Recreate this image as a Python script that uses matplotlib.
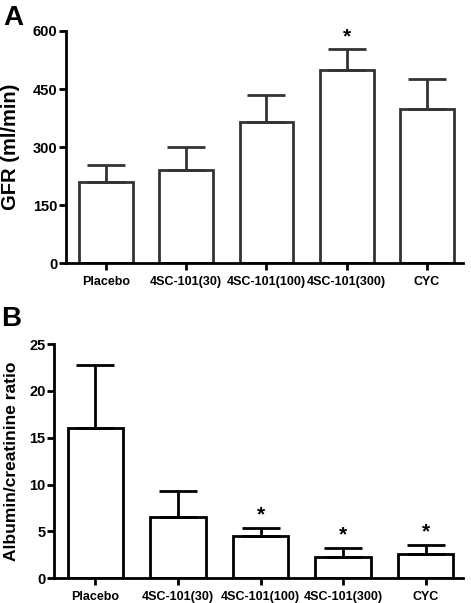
import matplotlib
matplotlib.use("Agg")
import matplotlib.pyplot as plt
import numpy as np

plt.rcParams['font.family'] = ['Liberation Sans', 'DejaVu Sans']
plt.rcParams['font.weight'] = 'bold'

categories = ["Placebo", "4SC-101(30)", "4SC-101(100)", "4SC-101(300)", "CYC"]
gfr_mean = [209, 240, 364, 498, 398]
gfr_err_top = [254, 300, 434, 553, 475]
gfr_sig = [False, False, False, True, False]
gfr_ticks = [0, 150, 300, 450, 600]

acr_mean = [16.0, 6.5, 4.5, 2.3, 2.55]
acr_err_top = [22.8, 9.3, 5.4, 3.25, 3.5]
acr_sig = [False, False, True, True, True]
acr_ticks = [0, 5, 10, 15, 20, 25]

fig = plt.figure(figsize=(4.71, 6.03), dpi=100)
axA = fig.add_axes([0.140, 0.5638, 0.843, 0.3848])
axB = fig.add_axes([0.1146, 0.0410, 0.8684, 0.3885])

def panel(ax, mean, top, sig, ticks, ylabel, edge, star_off, ylsize, ylx):
    x = np.arange(len(categories))
    mean = np.array(mean); top = np.array(top)
    ax.bar(x, mean, width=0.67, facecolor='white', edgecolor=edge, linewidth=2, zorder=2)
    ax.errorbar(x, mean, yerr=[np.zeros_like(mean), top - mean], fmt='none',
                ecolor=edge, elinewidth=2, capsize=14, capthick=2, zorder=3)
    for xi, t, s in zip(x, top, sig):
        if s:
            ax.text(xi, t + star_off, '*', ha='center', va='bottom', fontsize=15, fontweight='bold')
    ax.set_xlim(-0.5, 4.45)
    ax.set_ylim(ticks[0], ticks[-1])
    ax.set_yticks(ticks)
    ax.set_xticks(x)
    ax.set_xticklabels(categories, fontsize=9, fontweight='bold')
    ax.set_yticklabels([str(t) for t in ticks], fontsize=10.5, fontweight='bold')
    ax.tick_params(axis='y', width=2, length=5, pad=1)
    ax.tick_params(axis='x', width=2, length=5, pad=4)
    for s in ['top', 'right']:
        ax.spines[s].set_visible(False)
    for s in ['left', 'bottom']:
        ax.spines[s].set_linewidth(2)
    ax.text(ylx, 0.5, ylabel, transform=ax.transAxes, rotation=90,
            ha='center', va='center', fontsize=ylsize, fontweight='bold')

panel(axA, gfr_mean, gfr_err_top, gfr_sig, gfr_ticks, 'GFR (ml/min)', '#333333', 8, 14.5, -0.1385)
panel(axB, acr_mean, acr_err_top, acr_sig, acr_ticks, 'Albumin/creatinine ratio', '#000000', 0.4, 12.5, -0.105)

fig.text(0.008, 0.992, 'A', fontsize=20, fontweight='bold', va='top', ha='left')
fig.text(0.003, 0.493, 'B', fontsize=20, fontweight='bold', va='top', ha='left')

fig.savefig('out.png', dpi=100)
